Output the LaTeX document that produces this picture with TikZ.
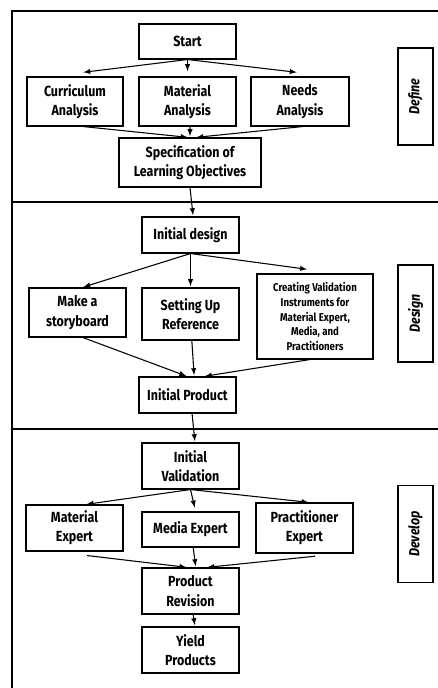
\documentclass[tikz,border=0pt]{standalone}
\usepackage{fontspec}
\setmainfont{Fira Sans}[FakeStretch=0.85]
\usepackage{tikz}
\usetikzlibrary{shapes}

\begin{document}
\begin{tikzpicture}[x=0.75pt,y=-0.75pt,
box/.style={shape=rectangle,draw=black,align=center,line width=0.8pt,inner sep=1pt,minimum width=72.75pt,font=\fontsize{11}{14.5}\selectfont\bfseries},
phase/.style={shape=rectangle,draw=black,line width=0.8pt,rotate=90,minimum width=72.75pt,minimum height=26.25pt,font=\fontsize{11}{13}\selectfont\bfseries\itshape},
flow/.style={-latex,draw=black,line width=0.8pt,shorten >=1pt}]
\useasboundingbox (0,0) rectangle (438,688);
\draw[line width=0.8pt] (438,11) -- (12,11) -- (12,688);
\draw[line width=0.8pt] (12,202) -- (438,202);
\draw[line width=0.8pt] (12,429) -- (438,429);

\node[box,minimum height=26.25pt] (start) at (187.5,41.5) {Start};
\node[box,minimum width=72pt,minimum height=36.75pt] (cur) at (75,101.5) {Curriculum\\Analysis};
\node[box,minimum height=36.75pt] (mat) at (187.5,101.5) {Material\\Analysis};
\node[box,minimum width=73.5pt,minimum height=36.75pt] (needs) at (300,101.5) {Needs\\Analysis};
\node[box,minimum width=106.5pt,minimum height=36.75pt] (spec) at (190,162.5) {Specification of\\Learning Objectives};
\node[phase] (define) at (415.5,96.5) {Define};

\node[box,minimum height=27pt] (design) at (190.5,235) {Initial design};
\node[box,minimum height=36.75pt] (story) at (77.5,312.5) {Make a\\storyboard};
\node[box,minimum height=39pt] (setref) at (190.5,314) {Setting Up\\Reference};
\node[box,minimum width=87pt,minimum height=63.75pt,font=\fontsize{8.5}{10.9}\selectfont\bfseries] (create) at (315,316.5) {Creating Validation\\Instruments for\\Material Expert,\\Media, and\\Practitioners};
\node[box,minimum height=27pt] (prod) at (187.5,395) {Initial Product};
\node[phase] (designlbl) at (415.5,313.5) {Design};

\node[box,minimum height=34.5pt] (val) at (190.5,466) {Initial\\Validation};
\node[box,minimum height=34.5pt] (mexp) at (74.5,528) {Material\\Expert};
\node[box,minimum height=26.25pt] (media) at (190.5,529.5) {Media Expert};
\node[box,minimum height=37.5pt] (prac) at (304.5,528) {Practitioner\\Expert};
\node[box,minimum height=34.5pt] (rev) at (190.5,591) {Product\\Revision};
\node[box,minimum height=34.5pt] (yield) at (190.5,650) {Yield\\Products};
\node[phase] (develop) at (415.5,534) {Develop};

\path (start.south) edge[flow] ([xshift=5.25pt,yshift=3pt]cur.north);
\path (start.south) edge[flow] ([yshift=3pt]mat.north);
\path (start.south) edge[flow] ([xshift=-1.5pt,yshift=3pt]needs.north);
\path ([xshift=6pt]cur.south) edge[flow] ([xshift=-0.75pt]spec.north);
\path ([xshift=1.9pt]mat.south) edge[flow] (spec.north);
\path ([xshift=2.25pt]needs.south) edge[flow] ([xshift=3.75pt]spec.north);
\path (spec.south) edge[flow] ([xshift=2pt]design.north);

\path (design.south) edge[flow] ([xshift=3.4pt]story.north);
\path (design.south) edge[flow] (setref.north);
\path (design.south) edge[flow] ([xshift=-5pt,yshift=3pt]create.north);
\path ([xshift=4pt]story.south) edge[flow] (prod.north);
\path ([xshift=1pt]setref.south) edge[flow] ([xshift=5pt]prod.north);
\path ([xshift=-3.75pt]create.south) edge[flow] ([xshift=12pt]prod.north);
\path ([xshift=3.4pt]prod.south) edge[flow] ([xshift=3.4pt]val.north);

\path (val.south) edge[flow] ([xshift=8pt]mexp.north);
\path (val.south) edge[flow] ([xshift=3.4pt,yshift=2pt]media.north);
\path (val.south) edge[flow] ([xshift=4pt]prac.north);
\path ([xshift=9.4pt,yshift=-3pt]mexp.south) edge[flow] ([xshift=-2pt]rev.north);
\path ([xshift=2pt]media.south) edge[flow] ([xshift=4pt]rev.north);
\path ([xshift=8pt,yshift=-2pt]prac.south) edge[flow] ([xshift=11.6pt]rev.north);
\path ([xshift=2pt]rev.south) edge[flow] ([xshift=3.4pt]yield.north);
\end{tikzpicture}
\end{document}
